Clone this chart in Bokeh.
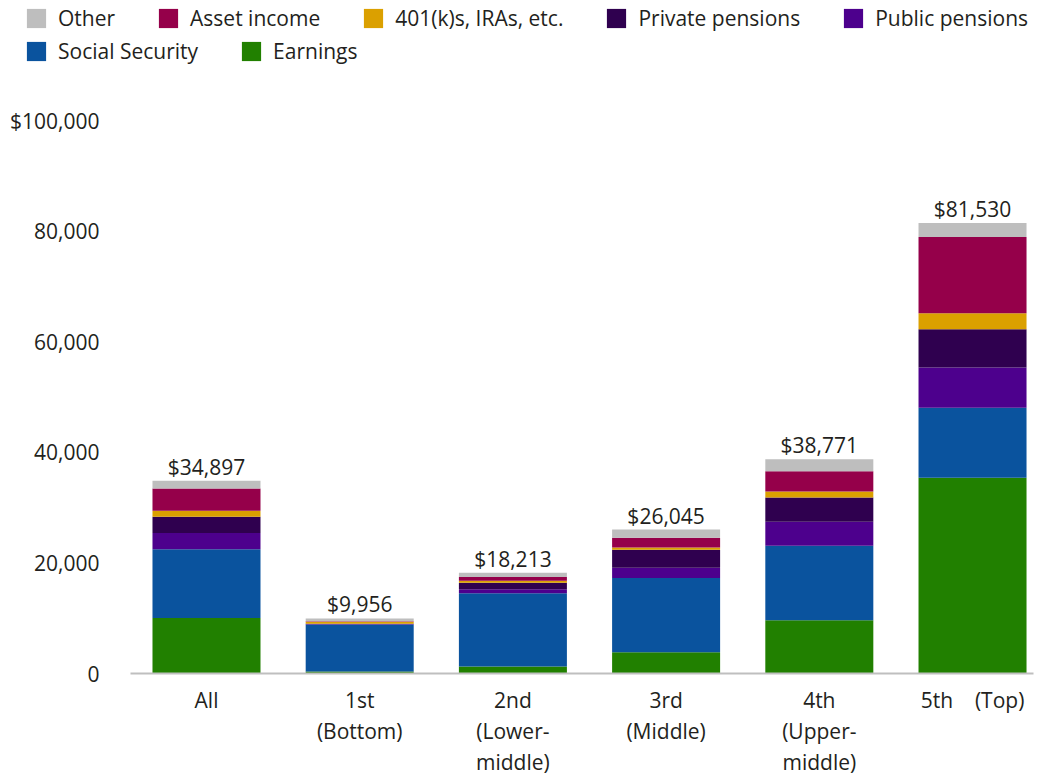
from bokeh.plotting import figure
from bokeh.models import ColumnDataSource, Legend, LegendItem, FixedTicker, NumeralTickFormatter, Range1d
from bokeh.core.properties import value
from bokeh.embed import file_html
from bokeh.resources import INLINE

# ---- data ----
groups = ["All", "1st\n(Bottom)", "2nd\n(Lower-\nmiddle)", "3rd\n(Middle)",
          "4th\n(Upper-\nmiddle)", "5th \u00a0\u00a0\u00a0(Top)"]
earnings = [10060, 380, 1288, 3825, 9647, 35410]
social_security = [12440, 8500, 13245, 13478, 13470, 12711]
public_pensions = [2930, 60, 736, 1821, 4369, 7263]
private_pensions = [2930, 60, 1159, 3278, 4369, 6900]
retirement_accounts = [1100, 380, 368, 419, 1092, 2905]
asset_income = [4030, 80, 681, 1767, 3640, 13800]
other = [1407, 496, 736, 1457, 2184, 2541]
totals = [34897, 9956, 18213, 26045, 38771, 81530]

series_names = ["Earnings", "Social Security", "Public pensions", "Private pensions",
                "401(k)s, IRAs, etc.", "Asset income", "Other"]
series_values = [earnings, social_security, public_pensions, private_pensions,
                 retirement_accounts, asset_income, other]
colors = ["#218000", "#0A539E", "#4D008D", "#2F004F", "#DBA000", "#95004A", "#BEBEBE"]

y_ticks = [0, 20000, 40000, 60000, 80000, 100000]

FONT = "Open Sans"
TEXT_COLOR = "#231f20"

xpos = list(range(len(groups)))
keys = ["s%d" % i for i in range(len(series_names))]
data = {"x": xpos, "total": totals, "label": ["${:,}".format(t) for t in totals]}
for k, v in zip(keys, series_values):
    data[k] = v
source = ColumnDataSource(data)

# ---- main chart ----
p = figure(width=1039, height=714, output_backend="svg", toolbar_location=None,
           x_range=Range1d(-0.496, 5.398), y_range=Range1d(0, 109500),
           min_border_left=130, min_border_right=6, min_border_top=0, min_border_bottom=109)
p.outline_line_color = None
p.xgrid.grid_line_color = None
p.ygrid.grid_line_color = None

renderers = p.vbar_stack(keys, x="x", width=0.705, color=colors, line_color=None, source=source)

p.text(x="x", y="total", text="label", source=source, text_font=value(FONT),
       text_font_size="21px", text_align="center", text_baseline="alphabetic",
       y_offset=-14, text_color=TEXT_COLOR)

p.xaxis.ticker = FixedTicker(ticks=xpos)
p.xaxis.major_label_overrides = {i: g for i, g in zip(xpos, groups)}
p.xaxis.axis_line_color = "#BFBFBF"
p.xaxis.axis_line_width = 2
p.xaxis.major_tick_line_color = None
p.xaxis.minor_tick_line_color = None
p.xaxis.major_tick_out = 0
p.xaxis.major_tick_in = 0
p.xaxis.major_label_standoff = 12
p.xaxis.major_label_text_font = FONT
p.xaxis.major_label_text_font_size = "21px"
p.xaxis.major_label_text_color = TEXT_COLOR
p.xaxis.major_label_text_line_height = 1.12

p.yaxis.ticker = FixedTicker(ticks=y_ticks)
p.yaxis.formatter = NumeralTickFormatter(format="0,0")
p.yaxis.major_label_overrides = {100000: "$100,000"}
p.yaxis.axis_line_color = None
p.yaxis.major_tick_line_color = None
p.yaxis.minor_tick_line_color = None
p.yaxis.major_tick_out = 0
p.yaxis.major_tick_in = 0
p.yaxis.major_label_standoff = 31
p.yaxis.major_label_text_font = FONT
p.yaxis.major_label_text_font_size = "21px"
p.yaxis.major_label_text_color = TEXT_COLOR

# ---- legend strip (same stacked series, zero-width and out of view) ----
lf = figure(width=1039, height=68, output_backend="svg", toolbar_location=None,
            x_range=Range1d(-0.496, 5.398), y_range=Range1d(-200000, -100000),
            min_border_left=0, min_border_right=0, min_border_top=0, min_border_bottom=0,
            x_axis_type=None, y_axis_type=None)
lf.outline_line_color = None
lf.xgrid.grid_line_color = None
lf.ygrid.grid_line_color = None
lrenderers = lf.vbar_stack(keys, x="x", width=0, color=colors, line_color=None, source=source)

rmap = dict(zip(series_names, lrenderers))
row1 = ["Other", "Asset income", "401(k)s, IRAs, etc.", "Private pensions", "Public pensions"]
row2 = ["Social Security", "Earnings"]


def make_legend(names, loc):
    return Legend(items=[LegendItem(label=n, renderers=[rmap[n]]) for n in names],
                  location=loc, orientation="horizontal",
                  glyph_width=24, glyph_height=24, label_standoff=10, spacing=41,
                  padding=0, margin=0, border_line_color=None, background_fill_alpha=0,
                  label_text_font=FONT, label_text_font_size="21px",
                  label_text_color=TEXT_COLOR)


lf.add_layout(make_legend(row1, (24, 36)))
lf.add_layout(make_legend(row2, (24, 3)))

open("out.html", "w").write(file_html([lf, p], INLINE))
